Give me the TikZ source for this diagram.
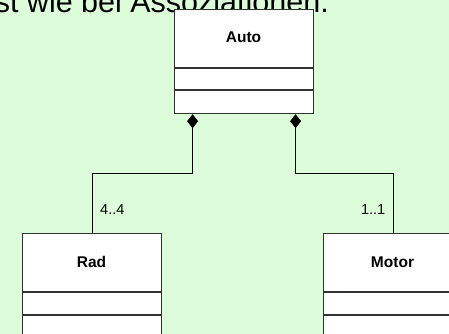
\documentclass[tikz,border=0pt]{standalone}
\usepackage{fontspec}
\setmainfont{Liberation Sans}
\usetikzlibrary{arrows.meta}
\definecolor{bg}{RGB}{221,252,218}
\definecolor{bord}{RGB}{50,50,50}
\begin{document}
\begin{tikzpicture}[x=1pt,y=-1pt,
  classbox/.style={draw=bord,fill=white,line width=1.2pt,minimum width=139pt,minimum height=104pt,anchor=north west,inner sep=0pt},
  classname/.style={font=\fontsize{15.5}{15.5}\selectfont\bfseries,inner sep=0pt},
  comp/.style={draw=black,line width=0.9pt,-{Diamond[length=14pt,width=11pt]}},
  mult/.style={font=\fontsize{14.5}{14.5}\selectfont,inner sep=0pt},
  divider/.style={draw=bord,line width=1.2pt}]
\fill[bg] (0,0) rectangle (449,334);
\useasboundingbox (0,0) rectangle (449,334);
\node[anchor=base east,inner sep=0pt,font=\fontsize{30.5}{30.5}\selectfont] (intro) at (329,13) {st wie bei Assoziationen.};
% classes
\node[classbox] (auto) at (174,9) {};
\node[classname] (autoname) at (243.5,37) {Auto};
\draw[divider] ([yshift=-59pt]auto.north west) -- ([yshift=-59pt]auto.north east);
\draw[divider] ([yshift=-81pt]auto.north west) -- ([yshift=-81pt]auto.north east);
\node[classbox] (rad) at (22,233) {};
\node[classname] (radname) at (91.5,262) {Rad};
\draw[divider] ([yshift=-59pt]rad.north west) -- ([yshift=-59pt]rad.north east);
\draw[divider] ([yshift=-82pt]rad.north west) -- ([yshift=-82pt]rad.north east);
\node[classbox] (motor) at (323,233) {};
\node[classname] (motorname) at (392.5,262) {Motor};
\draw[divider] ([yshift=-59pt]motor.north west) -- ([yshift=-59pt]motor.north east);
\draw[divider] ([yshift=-82pt]motor.north west) -- ([yshift=-82pt]motor.north east);
% compositions
\draw[comp] (rad.north) -- ++(0,-60) -| ([xshift=-51.5pt]auto.south);
\draw[comp] (motor.north) -- ++(0,-60) -| ([xshift=51.5pt]auto.south);
\node[mult,anchor=base west] (m1) at (100,214) {4..4};
\node[mult,anchor=base east] (m2) at (385.5,214) {1..1};
\end{tikzpicture}
\end{document}
